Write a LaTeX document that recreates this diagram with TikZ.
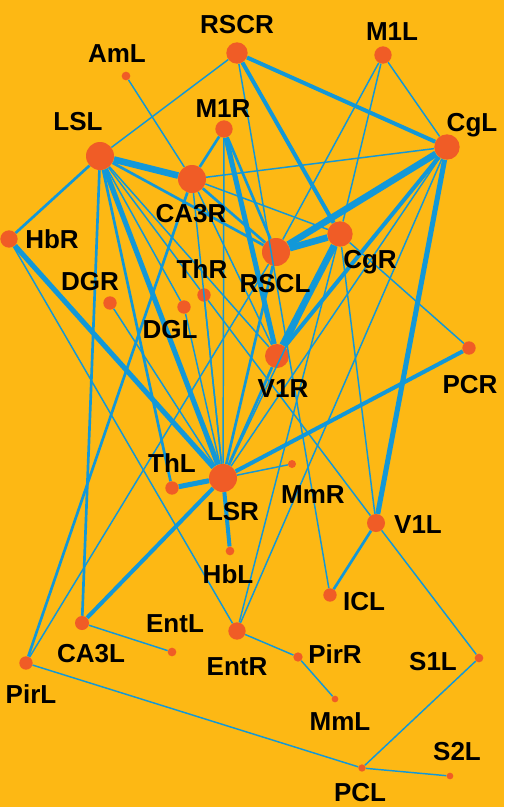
\documentclass[tikz,border=0pt]{standalone}
\usepackage{fontspec}
\setmainfont{Liberation Sans}
\usetikzlibrary{positioning}
\definecolor{bgorange}{RGB}{253,184,20}
\definecolor{vtxred}{RGB}{240,92,38}
\definecolor{edgeblue}{RGB}{18,152,216}

\begin{document}
\begin{tikzpicture}[
x=0.75pt, y=-0.75pt,
vtx/.style={circle, fill=vtxred, inner sep=0pt, minimum size=#1},
lbl/.style={anchor=base, inner sep=0pt, font=\bfseries\fontsize{19.5}{20}\selectfont},
thinline/.style={draw=edgeblue, line width=1.1pt},
midline/.style={draw=edgeblue, line width=2pt},
thickline/.style={draw=edgeblue, line width=3pt},
heavyline/.style={draw=edgeblue, line width=3.8pt},
hugeline/.style={draw=edgeblue, line width=5pt}
]
\fill[bgorange] (0,0) rectangle (504,807);
\useasboundingbox (0,0) rectangle (504,807);
%Nodes
\node[vtx=16]   (RSCR) at (237,53)  {};
\node[vtx=6.5]  (AmL)  at (126,76)  {};
\node[vtx=13]   (M1L)  at (383,55)  {};
\node[vtx=21]   (LSL)  at (100,156) {};
\node[vtx=13]   (M1R)  at (224,129) {};
\node[vtx=19]   (CgL)  at (447,147) {};
\node[vtx=21]   (CA3R) at (192,179) {};
\node[vtx=13]   (HbR)  at (9,239)   {};
\node[vtx=21]   (RSCL) at (276,252) {};
\node[vtx=19]   (CgR)  at (340,234) {};
\node[vtx=10]   (ThR)  at (204,295) {};
\node[vtx=10]   (DGR)  at (110,303) {};
\node[vtx=10]   (DGL)  at (184,307) {};
\node[vtx=18]   (V1R)  at (277,356) {};
\node[vtx=10]   (PCR)  at (469,348) {};
\node[vtx=10]   (ThL)  at (172,488) {};
\node[vtx=21]   (LSR)  at (223,478) {};
\node[vtx=6]    (MmR)  at (292,464) {};
\node[vtx=13.5] (V1L)  at (376,523) {};
\node[vtx=6.5]  (HbL)  at (230,551) {};
\node[vtx=10]   (ICL)  at (330,595) {};
\node[vtx=10.5] (CA3L) at (82,623)  {};
\node[vtx=6.5]  (EntL) at (172,652) {};
\node[vtx=13]   (EntR) at (237,631) {};
\node[vtx=7]    (PirR) at (298,657) {};
\node[vtx=10]   (PirL) at (26,663)  {};
\node[vtx=5]    (MmL)  at (335,699) {};
\node[vtx=6.5]  (S1L)  at (479,658) {};
\node[vtx=5]    (S2L)  at (450,776) {};
\node[vtx=5.5]  (PCL)  at (362,768) {};
%Lines
\draw (LSL) edge[thinline] (RSCR);
\draw (LSL) edge[hugeline] (CA3R);
\draw (LSL) edge[midline] (HbR);
\draw (LSL) edge[heavyline] (LSR);
\draw (LSL) edge[midline] (ThL);
\draw (LSL) edge[midline] (CA3L);
\draw (LSL) edge[thinline] (DGL);
\draw (LSL) edge[thinline] (ThR);
\draw (LSL) edge[midline] (RSCL);
\draw (LSL) edge[thinline] (V1R);
\draw (AmL) edge[thinline] (CA3R);
\draw (RSCR) edge[thickline] (CgL);
\draw (RSCR) edge[thickline] (CgR);
\draw (RSCR) edge[thinline] (ICL);
\draw (M1L) edge[thinline] (CgL);
\draw (M1L) edge[thinline] (RSCL);
\draw (M1L) edge[thinline] (CgR);
\draw (M1R) edge[midline] (CA3R);
\draw (M1R) edge[heavyline] (V1R);
\draw (M1R) edge[midline] (RSCL);
\draw (M1R) edge[thinline] (LSR);
\draw (CgL) edge[thinline] (CA3R);
\draw (CgL) edge[hugeline] (RSCL);
\draw (CgL) edge[thickline] (V1R);
\draw (CgL) edge[heavyline] (V1L);
\draw (CgL) edge[thinline] (LSR);
\draw (CgL) edge[thinline] (EntR);
\draw (CA3R) edge[thinline] (CgR);
\draw (CA3R) edge[midline] (RSCL);
\draw (CA3R) edge[thinline] (V1R);
\draw (CA3R) edge[thinline] (LSR);
\draw (CA3R) edge[midline] (PirL);
\draw (HbR) edge[heavyline] (LSR);
\draw (HbR) edge[thinline] (EntR);
\draw (RSCL) edge[hugeline] (CgR);
\draw (RSCL) edge[thinline] (PirL);
\draw (RSCL) edge[midline] (LSR);
\draw (CgR) edge[hugeline] (V1R);
\draw (CgR) edge[thinline] (PCR);
\draw (CgR) edge[thinline] (V1L);
\draw (CgR) edge[thinline] (EntR);
\draw (CgR) edge[thinline] (LSR);
\draw (ThR) edge[thinline] (V1L);
\draw (ThR) edge[thinline] (LSR);
\draw (DGR) edge[thinline] (LSR);
\draw (DGL) edge[thinline] (LSR);
\draw (V1R) edge[midline] (LSR);
\draw (PCR) edge[thickline] (LSR);
\draw (ThL) edge[heavyline] (LSR);
\draw (LSR) edge[thinline] (MmR);
\draw (LSR) edge[thickline] (HbL);
\draw (LSR) edge[thickline] (CA3L);
\draw (V1L) edge[thinline] (S1L);
\draw (V1L) edge[midline] (ICL);
\draw (CA3L) edge[thinline] (EntL);
\draw (EntR) edge[thinline] (PirR);
\draw (PirR) edge[thinline] (MmL);
\draw (PirL) edge[thinline] (PCL);
\draw (PCL) edge[thinline] (S1L);
\draw (PCL) edge[thinline] (S2L);
%Labels
\node[lbl] (RSCR-t) at (237,33)  {RSCR};
\node[lbl] (AmL-t)  at (117,62)  {AmL};
\node[lbl] (M1L-t)  at (392,40)  {M1L};
\node[lbl] (LSL-t)  at (78,130)  {LSL};
\node[lbl] (M1R-t)  at (223,117) {M1R};
\node[lbl] (CgL-t)  at (472,131) {CgL};
\node[lbl] (CA3R-t) at (191,222) {CA3R};
\node[lbl] (HbR-t)  at (52,248)  {HbR};
\node[lbl] (RSCL-t) at (275,292) {RSCL};
\node[lbl] (CgR-t)  at (370,268) {CgR};
\node[lbl] (ThR-t)  at (202,278) {ThR};
\node[lbl] (DGR-t)  at (90,290)  {DGR};
\node[lbl] (DGL-t)  at (170,338) {DGL};
\node[lbl] (V1R-t)  at (283,397) {V1R};
\node[lbl] (PCR-t)  at (470,393) {PCR};
\node[lbl] (ThL-t)  at (172,472) {ThL};
\node[lbl] (LSR-t)  at (233,520) {LSR};
\node[lbl] (MmR-t)  at (313,503) {MmR};
\node[lbl] (V1L-t)  at (418,533) {V1L};
\node[lbl] (HbL-t)  at (228,583) {HbL};
\node[lbl] (ICL-t)  at (364,610) {ICL};
\node[lbl] (CA3L-t) at (91,662)  {CA3L};
\node[lbl] (EntL-t) at (175,632) {EntL};
\node[lbl] (EntR-t) at (237,675) {EntR};
\node[lbl] (PirR-t) at (335,663) {PirR};
\node[lbl] (PirL-t) at (31,703)  {PirL};
\node[lbl] (MmL-t)  at (340,730) {MmL};
\node[lbl] (S1L-t)  at (433,670) {S1L};
\node[lbl] (S2L-t)  at (457,760) {S2L};
\node[lbl] (PCL-t)  at (360,801) {PCL};
\end{tikzpicture}
\end{document}
